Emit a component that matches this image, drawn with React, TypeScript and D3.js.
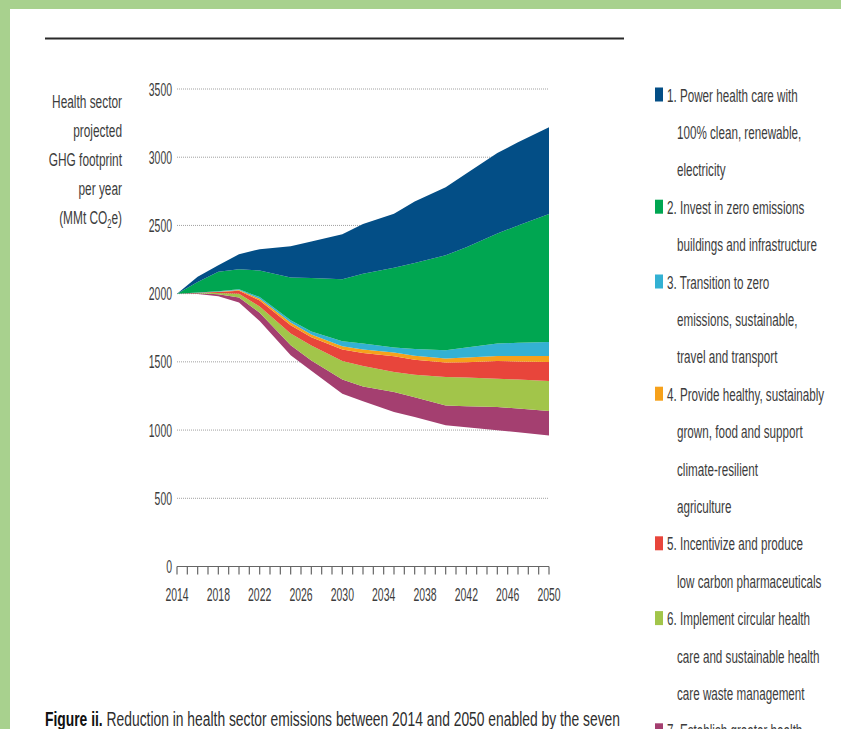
import React from "react";
import * as d3 from "d3";

const years = [2014, 2016, 2018, 2020, 2022, 2025, 2027, 2030, 2032, 2035, 2037, 2040, 2042, 2045, 2047, 2050];
// remaining emissions (bottom of the stack, not drawn)
const remaining = [2000, 1998, 1980, 1935, 1800, 1548, 1435, 1267, 1212, 1132, 1095, 1035, 1020, 998, 984, 961];
// reductions by strategy (MMt CO2e)
const s7 = [0, 4, 15, 37, 60, 73, 75, 103, 108, 147, 145, 146, 155, 171, 174, 179];
const s6 = [0, 2, 10, 28, 45, 86, 110, 136, 150, 147, 165, 208, 210, 208, 212, 220];
const s5 = [0, 2, 7, 22, 45, 61, 60, 84, 95, 115, 110, 106, 113, 129, 133, 139];
const s4 = [0, 1, 2, 5, 12, 20, 20, 24, 25, 27, 30, 30, 34, 37, 40, 44];
const s3 = [0, 1, 3, 6, 13, 17, 22, 37, 45, 37, 50, 60, 73, 91, 97, 103];
const s2 = [0, 77, 143, 145, 195, 313, 393, 455, 510, 585, 630, 697, 735, 806, 860, 937];
const s1 = [0, 38, 49, 111, 156, 230, 267, 330, 365, 395, 450, 498, 540, 590, 610, 636];

const yTicks = [0, 500, 1000, 1500, 2000, 2500, 3000, 3500];
const xLabelYears = [2014, 2018, 2022, 2026, 2030, 2034, 2038, 2042, 2046, 2050];

const seriesKeys = ["remaining", "s7", "s6", "s5", "s4", "s3", "s2", "s1"];
const seriesColors: Record<string, string> = {
  s1: "#034e86",
  s2: "#00a651",
  s3: "#33b1d3",
  s4: "#f6a11b",
  s5: "#e8453b",
  s6: "#a2c54a",
  s7: "#a43f70",
};

const legendItems = [
  { key: "s1", lines: ["1. Power health care with", "100% clean, renewable,", "electricity"] },
  { key: "s2", lines: ["2. Invest in zero emissions", "buildings and infrastructure"] },
  { key: "s3", lines: ["3. Transition to zero", "emissions, sustainable,", "travel and transport"] },
  { key: "s4", lines: ["4. Provide healthy, sustainably", "grown, food and support", "climate-resilient", "agriculture"] },
  { key: "s5", lines: ["5. Incentivize and produce", "low carbon pharmaceuticals"] },
  { key: "s6", lines: ["6. Implement circular health", "care and sustainable health", "care waste management"] },
  { key: "s7", lines: ["7. Establish greater health"] },
];

const yTitle = ["Health sector", "projected", "GHG footprint", "per year"];

const FONT = "'Liberation Sans', Arial, sans-serif";
const TXT = "#3c3c3c";

function T({ x, y, sx = 0.62, anchor = "start", size = 18, weight = "normal", fill = TXT, children }: any) {
  return (
    <text
      transform={`translate(${x},${y}) scale(${sx},1)`}
      textAnchor={anchor}
      fontSize={size}
      fontWeight={weight}
      fill={fill}
      fontFamily={FONT}
    >
      {children}
    </text>
  );
}

export default function App() {
  const W = 841, H = 729;
  const x = d3.scaleLinear().domain([2014, 2050]).range([177, 549]);
  const y = d3.scaleLinear().domain([0, 3500]).range([566.5, 89]);

  const table = years.map((yr, i) => ({
    year: yr,
    remaining: remaining[i],
    s7: s7[i], s6: s6[i], s5: s5[i], s4: s4[i], s3: s3[i], s2: s2[i], s1: s1[i],
  }));
  const stacked = d3.stack<any>().keys(seriesKeys)(table);
  const area = d3
    .area<any>()
    .x((d) => x(d.data.year))
    .y0((d) => y(d[0]))
    .y1((d) => y(d[1]))
    .curve(d3.curveLinear);

  const allYears = d3.range(2014, 2051);

  let lineIdx = 0;
  const legendEls: any[] = [];
  legendItems.forEach((item) => {
    item.lines.forEach((ln, j) => {
      const by = 101.5 + 37.4 * lineIdx;
      if (j === 0) {
        legendEls.push(
          <rect key={item.key + "r"} x={655} y={by - 14} width={8} height={14} fill={seriesColors[item.key]} />
        );
        legendEls.push(
          <T key={item.key + j} x={667} y={by} size={18.5} sx={0.63}>{ln}</T>
        );
      } else {
        legendEls.push(
          <T key={item.key + j} x={677} y={by} size={18.5} sx={0.63}>{ln}</T>
        );
      }
      lineIdx++;
    });
  });

  return (
    <svg width={W} height={H} style={{ position: "absolute", left: 0, top: 0, background: "#fff" }}>
      <rect x={0} y={0} width={W} height={H} fill="#fff" />
      <rect x={0} y={0} width={W} height={9} fill="#a8d18e" />
      <rect x={0} y={0} width={10} height={H} fill="#a8d18e" />
      <line x1={45} x2={624} y1={38.5} y2={38.5} stroke="#2a2a2a" strokeWidth={2} />

      {/* gridlines */}
      {yTicks.filter((t) => t > 0).map((t) => (
        <line key={t} x1={177} x2={549} y1={y(t)} y2={y(t)} stroke="#a0a0a0" strokeWidth={1} strokeDasharray="1,1" />
      ))}

      {/* areas */}
      {stacked.filter((s) => s.key !== "remaining").map((s) => (
        <path key={s.key} d={area(s) || ""} fill={seriesColors[s.key]} />
      ))}

      {/* y tick labels */}
      {yTicks.map((t) => (
        <T key={t} x={172} y={y(t) + 6.5} anchor="end" size={18} sx={0.58}>{String(t)}</T>
      ))}

      {/* x axis */}
      <line x1={x(2014)} x2={x(2050)} y1={y(0)} y2={y(0)} stroke="#666" strokeWidth={1.2} />
      {allYears.map((yr) => (
        <line key={yr} x1={x(yr)} x2={x(yr)} y1={y(0)} y2={y(0) + 8} stroke="#666" strokeWidth={1.2} />
      ))}
      {xLabelYears.map((yr) => (
        <T key={yr} x={x(yr)} y={601} anchor="middle" size={18} sx={0.58}>{String(yr)}</T>
      ))}

      {/* y title */}
      {yTitle.map((ln, i) => (
        <T key={ln} x={122} y={108 + 29 * i} anchor="end" size={19} sx={0.625}>{ln}</T>
      ))}
      <T x={122} y={108 + 29 * 4} anchor="end" size={19} sx={0.625}>
        <tspan>(MMt CO</tspan>
        <tspan dy={4} fontSize={12}>2</tspan>
        <tspan dy={-4}>e)</tspan>
      </T>

      {legendEls}

      <text x={45} y={726} fontSize={20} fontFamily={FONT} fill="#2e2e2e" textLength={575} lengthAdjust="spacingAndGlyphs">
        <tspan fontWeight="bold" fill="#111">Figure ii.</tspan>
        <tspan> Reduction in health sector emissions between 2014 and 2050 enabled by the seven</tspan>
      </text>
    </svg>
  );
}
